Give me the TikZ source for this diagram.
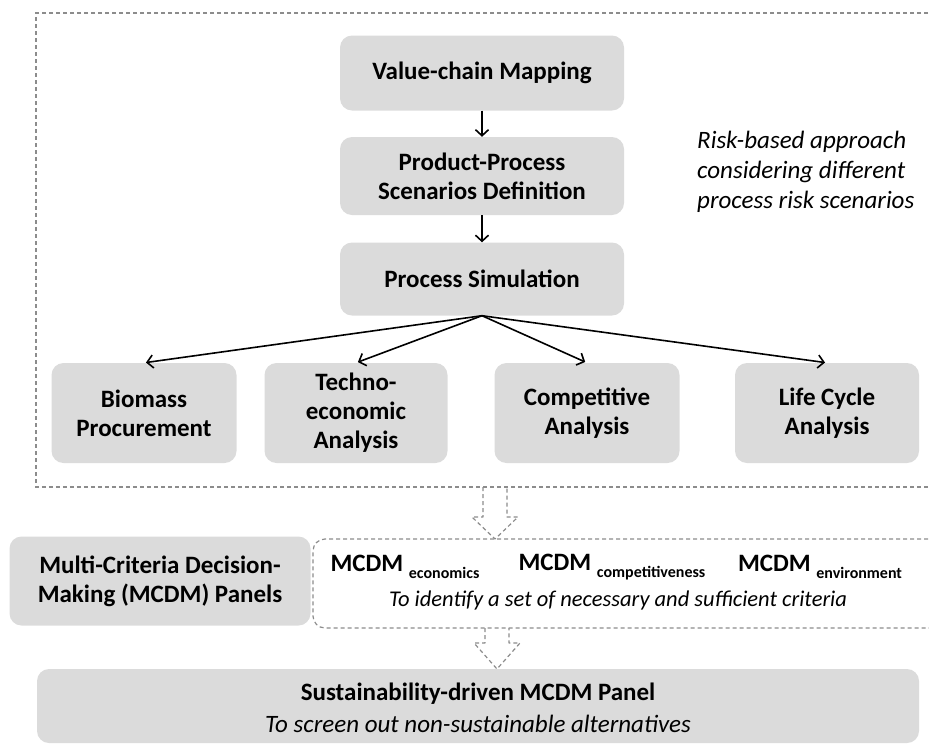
\documentclass[tikz,border=0pt]{standalone}
\usepackage{fontspec}
\setmainfont{Carlito}
\usepackage{tikz}
\usetikzlibrary{calc,arrows.meta}

\definecolor{boxgray}{RGB}{219,219,219}
\definecolor{dashgray}{RGB}{140,140,140}

\tikzset{
	box/.style={fill=boxgray, rounded corners=12pt, align=center, inner sep=0pt,
		font=\bfseries\fontsize{25}{29}\selectfont},
	dashline/.style={draw=dashgray, line width=1.2pt, dash pattern=on 4pt off 3pt},
	flow/.style={line width=1.6pt, -{Straight Barb[length=6pt,width=13pt]}},
	note/.style={font=\itshape\fontsize{25}{30}\selectfont, align=left, inner sep=0pt}
}

\begin{document}
\begin{tikzpicture}[x=1pt, y=-1pt]
		\useasboundingbox (0,0) rectangle (929,745);

		% Outer dashed frame
		\draw[dashline] (970,13) -- (36,13) -- (36,487) -- (970,487);

		% Process chain
		\node[box, minimum width=284pt, minimum height=75pt] (vcm) at (482,73) {Value-chain Mapping};
		\node[box, minimum width=284pt, minimum height=78pt] (ppsd) at (482,176) {Product-Process\\Scenarios Definition};
		\node[box, minimum width=284pt, minimum height=73pt] (psim) at (482,279) {Process Simulation};
		\draw[flow] (vcm) -- (ppsd);
		\draw[flow] (ppsd) -- (psim);

		\node[note, anchor=west] (risk) at (697,172) {Risk-based approach\\considering different\\process risk scenarios};

		% Analyses
		\node[box, minimum width=185pt, minimum height=100pt] (bio) at (144,413) {Biomass\\Procurement};
		\node[box, minimum width=183pt, minimum height=100pt] (tea) at (356,413) {Techno-\\economic\\Analysis};
		\node[box, minimum width=185pt, minimum height=100pt] (comp) at (587,413) {Competitive\\Analysis};
		\node[box, minimum width=184pt, minimum height=100pt] (lca) at (827,413) {Life Cycle\\Analysis};
		\foreach \b in {bio,tea,comp,lca}
			\draw[flow, shorten >=2pt] (psim.south) -- (\b.north);

		% MCDM panels
		\node[box, minimum width=301pt, minimum height=89pt] (mcdm) at (160,581) {Multi-Criteria Decision-\\Making (MCDM) Panels};
		\draw[dashline, rounded corners=12pt] (970,539) -- (313,539) -- (313,628) -- (970,628);
		\node[font=\bfseries\fontsize{25}{29}\selectfont, inner sep=0pt] (mecon) at (405,567)
			{MCDM {\fontsize{16}{16}\selectfont\raisebox{-7pt}{economics}}};
		\node[font=\bfseries\fontsize{25}{29}\selectfont, inner sep=0pt] (mcomp) at (612,567)
			{MCDM {\fontsize{16}{16}\selectfont\raisebox{-7pt}{competitiveness}}};
		\node[font=\bfseries\fontsize{25}{29}\selectfont, inner sep=0pt] (menv) at (820,567)
			{MCDM {\fontsize{16}{16}\selectfont\raisebox{-7pt}{environment}}};
		\node[note, font=\itshape\fontsize{22.5}{27}\selectfont] (crit) at (618,600) {To identify a set of necessary and sufficient criteria};

		% Hollow arrows
		\coordinate (up1) at (495,487);
		\coordinate (dn1) at (495,539);
		\draw[dashline, line join=round] ($(up1)+(-12,0)$) -- ($(dn1)+(-12,-22)$) -- ($(dn1)+(-23,-22)$) -- (dn1)
			-- ($(dn1)+(23,-22)$) -- ($(dn1)+(12,-22)$) -- ($(up1)+(12,0)$);
		\coordinate (up2) at (497,628);
		\coordinate (dn2) at (497,669);
		\draw[dashline, line join=round] ($(up2)+(-12,0)$) -- ($(dn2)+(-12,-26)$) -- ($(dn2)+(-23,-26)$) -- (dn2)
			-- ($(dn2)+(23,-26)$) -- ($(dn2)+(12,-26)$) -- ($(up2)+(12,0)$);

		% Final panel
		\node[box, minimum width=882pt, minimum height=74pt] (panel) at (478,706) {};
		\node[font=\bfseries\fontsize{25}{29}\selectfont, inner sep=0pt] (ptitle) at (478,694) {Sustainability-driven MCDM Panel};
		\node[note] (psub) at (478,724) {To screen out non-sustainable alternatives};
	\end{tikzpicture}
\end{document}
